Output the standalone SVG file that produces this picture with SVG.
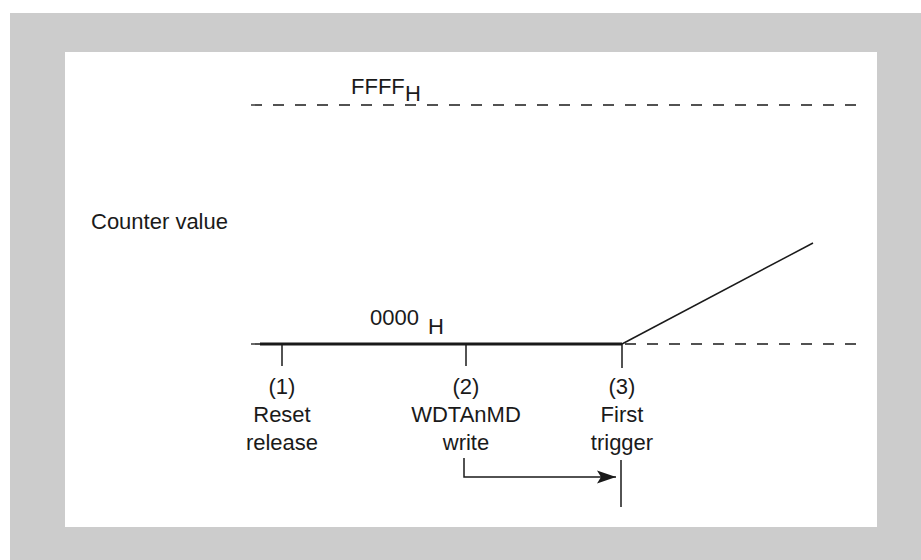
<svg xmlns="http://www.w3.org/2000/svg" width="921" height="560" viewBox="0 0 921 560">
  <style>
    text { font-family: "Liberation Sans", Arial, sans-serif; font-size: 22px; fill: #1a1a1a; }
    .lbl { text-anchor: middle; }
    .dash { stroke: #1a1a1a; stroke-width: 1.3; stroke-dasharray: 11 11; fill: none; }
    .thin { stroke: #1a1a1a; stroke-width: 1.5; fill: none; }
    .thick { stroke: #1a1a1a; stroke-width: 3; fill: none; }
  </style>
  <defs>
    <marker id="arr" markerUnits="userSpaceOnUse" markerWidth="20" markerHeight="14" refX="19" refY="7" orient="auto">
      <path d="M0,0.5 L19,7 L0,13.5 L4,7 Z" fill="#1a1a1a"/>
    </marker>
  </defs>
  <rect x="10" y="13" width="911" height="547" fill="#cccccc"/>
  <rect x="65" y="52" width="812" height="475" fill="#ffffff"/>

  <g id="axis-labels">
    <text x="91" y="229">Counter value</text>
    <text x="351" y="94">FFFF</text>
    <text x="405" y="101">H</text>
    <text x="370" y="325">0000</text>
    <text x="428" y="334">H</text>
  </g>

  <g id="lines">
    <line class="dash" x1="251" y1="105" x2="858" y2="105"/>
    <line class="dash" x1="251" y1="344" x2="858" y2="344"/>
    <line class="thick" x1="260" y1="344" x2="622" y2="344"/>
    <line class="thin" x1="622" y1="344" x2="813" y2="243"/>
  </g>

  <g id="event1">
    <line class="thin" x1="282" y1="344" x2="282" y2="366"/>
    <text class="lbl" x="282" y="394">(1)</text>
    <text class="lbl" x="282" y="422">Reset</text>
    <text class="lbl" x="282" y="450">release</text>
  </g>
  <g id="event2">
    <line class="thin" x1="466" y1="344" x2="466" y2="366"/>
    <text class="lbl" x="466" y="394">(2)</text>
    <text class="lbl" x="466" y="422">WDTAnMD</text>
    <text class="lbl" x="466" y="450">write</text>
  </g>
  <g id="event3">
    <line class="thin" x1="622" y1="344" x2="622" y2="368"/>
    <text class="lbl" x="622" y="394">(3)</text>
    <text class="lbl" x="622" y="422">First</text>
    <text class="lbl" x="622" y="450">trigger</text>
    <line class="thin" x1="621" y1="460" x2="621" y2="507"/>
  </g>

  <g id="connectors">
    <path class="thin" d="M464,458 V477 H616" marker-end="url(#arr)"/>
  </g>
</svg>
